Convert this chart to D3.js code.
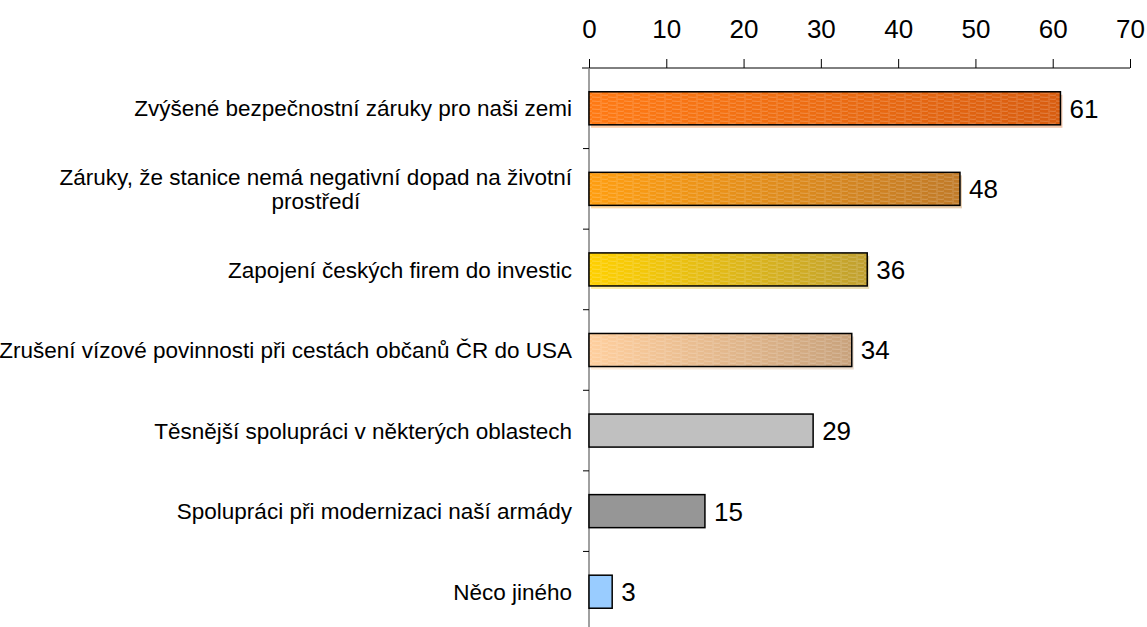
<!DOCTYPE html>
<html>
<head>
<meta charset="utf-8">
<script src="https://cdn.jsdelivr.net/npm/d3@7"></script>
<style>
  body { margin: 0; background: #fff; }
  svg { display: block; font-family: "Liberation Sans", Arial, sans-serif; }
</style>
</head>
<body>
<div id="chart"></div>
<script>
// survey answers, top to bottom
var categories = [
    "Zvýšené bezpečnostní záruky pro naši zemi",
    "Záruky, že stanice nemá negativní dopad na životní|prostředí",
    "Zapojení českých firem do investic",
    "Zrušení vízové povinnosti při cestách občanů ČR do USA",
    "Těsnější spolupráci v některých oblastech",
    "Spolupráci při modernizaci naší armády",
    "Něco jiného"
];
var values = [61, 48, 36, 34, 29, 15, 3];
var xTicks = [0, 10, 20, 30, 40, 50, 60, 70];

// fill colours (left, right of gradient); solid bars have same colour twice
var barFills = [
    ["#ff7a14", "#d85d10"],
    ["#ff9e10", "#c07a28"],
    ["#ffd000", "#c0a030"],
    ["#ffcf9e", "#c8a27c"],
    ["#c0c0c0", "#c0c0c0"],
    ["#969696", "#969696"],
    ["#99ccff", "#99ccff"]
];
var hatched = [true, true, true, true, false, false, false];

var width = 1147, height = 627;
var x0 = 589, x1 = 1130, yTop = 68, yBot = 632;

var svg = d3.select("#chart").append("svg")
    .attr("width", width)
    .attr("height", height);

var defs = svg.append("defs");

barFills.forEach(function (c, i) {
    var g = defs.append("linearGradient")
        .attr("id", "grad" + i)
        .attr("x1", "0%").attr("x2", "100%")
        .attr("y1", "0%").attr("y2", "0%");
    g.append("stop").attr("offset", "0%").attr("stop-color", c[0]);
    g.append("stop").attr("offset", "100%").attr("stop-color", c[1]);
});

// light streaks like the old office pattern fill
var pat = defs.append("pattern")
    .attr("id", "streaks")
    .attr("patternUnits", "userSpaceOnUse")
    .attr("width", 16).attr("height", 4);
pat.append("path")
    .attr("d", "M0,1 L6,1.4 L10,1 M8,3 L14,3.4 L16,3")
    .attr("stroke", "#fff")
    .attr("stroke-width", 0.8)
    .attr("fill", "none")
    .attr("opacity", 0.28);

var x = d3.scaleLinear()
    .domain([0, 70])
    .range([x0, x1]);

var y = d3.scaleBand()
    .domain(d3.range(categories.length))
    .range([yTop, yBot]);

var barH = y.bandwidth() * 0.41;

// top axis
var xAxis = svg.append("g")
    .attr("transform", "translate(0," + yTop + ")")
    .call(d3.axisTop(x).tickValues(xTicks).tickSize(9).tickSizeOuter(0).tickPadding(21));
xAxis.select(".domain")
    .attr("d", "M" + (x0 - 7) + ",0H" + x1)
    .attr("stroke", "#000");
xAxis.selectAll(".tick line").attr("stroke", "#000");
xAxis.selectAll(".tick text")
    .attr("font-size", 26)
    .attr("font-family", "'Liberation Sans', Arial, sans-serif")
    .attr("fill", "#000");

// left axis line and ticks between categories
svg.append("line")
    .attr("x1", x0).attr("x2", x0)
    .attr("y1", yTop).attr("y2", height)
    .attr("stroke", "#808080")
    .attr("stroke-width", 1.5);

svg.selectAll(".ytick")
    .data(d3.range(1, categories.length))
    .enter().append("line")
    .attr("class", "ytick")
    .attr("x1", x0 - 6).attr("x2", x0)
    .attr("y1", function (d) { return y(d); })
    .attr("y2", function (d) { return y(d); })
    .attr("stroke", "#000");

var bars = svg.selectAll(".bar")
    .data(values)
    .enter().append("g")
    .attr("class", "bar");

function barY(i) { return y(i) + (y.bandwidth() - barH) / 2; }

// soft shadow under hatched bars
bars.filter(function (d, i) { return hatched[i]; })
    .append("rect")
    .attr("x", x(0) + 2)
    .attr("y", function (d) { return barY(values.indexOf(d)) + 3; })
    .attr("width", function (d) { return x(d) - x(0); })
    .attr("height", barH)
    .attr("fill", function (d) { return "url(#grad" + values.indexOf(d) + ")"; })
    .attr("opacity", 0.35);

bars.append("rect")
    .attr("x", x(0))
    .attr("y", function (d, i) { return barY(i); })
    .attr("width", function (d) { return x(d) - x(0); })
    .attr("height", barH)
    .attr("fill", function (d, i) { return "url(#grad" + i + ")"; });

bars.filter(function (d, i) { return hatched[i]; })
    .append("rect")
    .attr("x", x(0))
    .attr("y", function (d) { return barY(values.indexOf(d)); })
    .attr("width", function (d) { return x(d) - x(0); })
    .attr("height", barH)
    .attr("fill", "url(#streaks)");

bars.append("rect")
    .attr("x", x(0))
    .attr("y", function (d, i) { return barY(i); })
    .attr("width", function (d) { return x(d) - x(0); })
    .attr("height", barH)
    .attr("fill", "none")
    .attr("stroke", "#000")
    .attr("stroke-width", 1.5);

// value labels
svg.selectAll(".val")
    .data(values)
    .enter().append("text")
    .attr("class", "val")
    .attr("x", function (d) { return x(d) + 9; })
    .attr("y", function (d, i) { return y(i) + y.bandwidth() / 2; })
    .attr("dy", "0.36em")
    .attr("font-size", 26)
    .attr("fill", "#000")
    .text(function (d) { return d; });

// category labels, wrapped lines centred within a right aligned block
var labelRight = 572;
categories.forEach(function (c, i) {
    var lines = c.split("|");
    var t = svg.append("text")
        .attr("font-size", 22.5)
        .attr("fill", "#000");
    var cy = y(i) + y.bandwidth() / 2;
    var lh = 24;
    lines.forEach(function (ln, k) {
        t.append("tspan")
            .attr("y", cy + (k - (lines.length - 1) / 2) * lh)
            .attr("dy", "0.36em")
            .text(ln);
    });
    var spans = t.selectAll("tspan").nodes();
    var maxW = d3.max(spans, function (s) { return s.getComputedTextLength(); });
    spans.forEach(function (s) {
        d3.select(s)
            .attr("x", labelRight - maxW / 2)
            .attr("text-anchor", "middle");
    });
});
</script>
</body>
</html>
